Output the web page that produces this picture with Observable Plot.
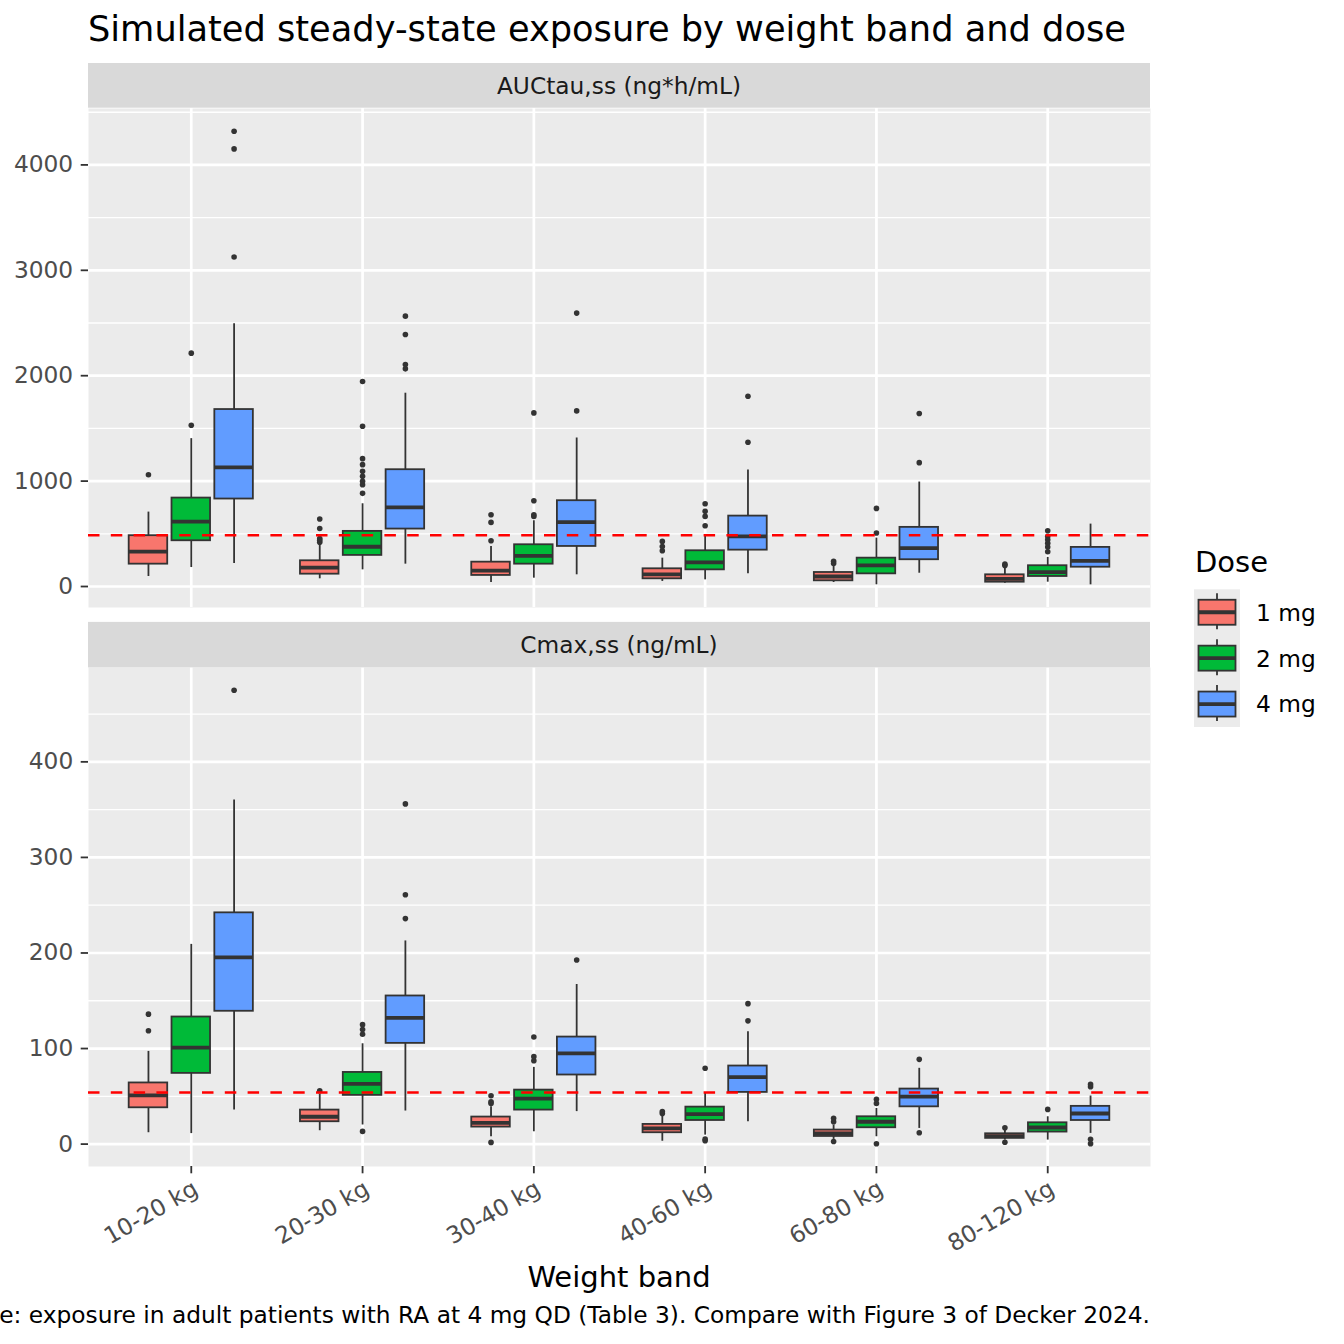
<!DOCTYPE html>
<html><head><meta charset="utf-8">
<script src="https://cdn.jsdelivr.net/npm/d3@7"></script>
<script src="https://cdn.jsdelivr.net/npm/@observablehq/plot@0.6"></script>
<style>
html,body{margin:0;padding:0;background:#fff;overflow:hidden}
#root{position:relative;width:1344px;height:1344px;overflow:hidden;font-family:"DejaVu Sans",sans-serif}
#root > svg{position:absolute;left:0}
</style></head><body><div id="root"></div>
<script>
const bands = ["10-20 kg","20-30 kg","30-40 kg","40-60 kg","60-80 kg","80-120 kg"];
const doses = ["1 mg","2 mg","4 mg"];
const doseColors = ["#F8766D","#00BA38","#619CFF"];

// AUCtau,ss (ng*h/mL): per band, [1 mg, 2 mg, 4 mg]
const aucLow = [[95,180,218],[73,158,212],[38,79,111],[48,63,120],[38,16,126],[31,41,16]];
const aucQ1  = [[212,434,830],[117,295,545],[105,212,380],[73,158,345],[54,120,254],[41,95,183]];
const aucMed = [[330,615,1131],[180,377,750],[150,291,611],[115,228,475],[95,200,364],[73,136,244]];
const aucQ3  = [[482,839,1679],[244,523,1108],[231,396,814],[168,339,668],[133,269,561],[111,197,371]];
const aucHigh= [[706,1403,2492],[400,785,1834],[380,624,1409],[269,491,1105],[206,459,991],[174,276,592]];
const aucOut = [
  [[1061],[1530,2214],[3126,4152,4320]],
  [[420,440,455,551,640],[884,966,998,1045,1093,1156,1213,1520,1945],[2065,2106,2391,2565]],
  [[434,608,681],[665,681,814,1647],[1666,2594]],
  [[339,380,428],[577,665,713,785],[1368,1805]],
  [[218,240],[507,741],[1175,1641]],
  [[200,212],[330,374,411,443,475,529],[]]
];
const aucRef = 487;

// Cmax,ss (ng/mL)
const cmaxLow = [[11.9,11,35.6],[14,20,34.6],[7.7,12.9,34],[3,9.4,23.4],[4.9,7.7,16.4],[4.2,4.2,11.2]];
const cmaxQ1  = [[38,74,139],[23.4,51,105.4],[17.8,35.6,72.3],[11.9,24.7,54.1],[8,17.1,39],[6,12.6,24.7]];
const cmaxMed = [[51,101,195.5],[28.6,63,132],[22.3,47.5,95],[16.4,31.4,70],[11.2,23.4,49.6],[8.4,17.4,32]];
const cmaxQ3  = [[64,133,242],[35.6,75,155],[28.3,56.5,112],[20.6,38.7,81.7],[14.7,28.6,57.6],[10.8,22.3,39.5]];
const cmaxHigh= [[97,209,360],[52,105,212.6],[39,80.3,167],[30.4,53,117.6],[19.9,37.3,79.3],[15.3,28.6,50.3]];
const cmaxOut = [
  [[118.6,136],[],[475]],
  [[55.8],[13.3,115,120,125],[236,261,356]],
  [[1.8,42.6,44.3,50.6],[87.3,91.5,112],[192.7]],
  [[32,34],[3.5,5.2,79.3],[129,147]],
  [[2.8,23.4,27],[0.3,42.6,47],[11.9,88.7]],
  [[2,17],[36.3],[0.5,5,60,62.5]]
];
const cmaxRef = 54;

const aucMajor = [0,1000,2000,3000,4000];
const aucMinor = [500,1500,2500,3500,4500];
const cmaxMajor = [0,100,200,300,400];
const cmaxMinor = [50,150,250,350,450];

const DODGE = 0.25, HALF = 0.1125;
function buildRows(lo,q1,med,q3,hi){
  const rows=[];
  bands.forEach((b,i)=>doses.forEach((d,j)=>{
    const x=i+1+(j-1)*DODGE;
    rows.push({band:b,dose:d,x,x1:x-HALF,x2:x+HALF,lo:lo[i][j],q1:q1[i][j],med:med[i][j],q3:q3[i][j],hi:hi[i][j]});
  }));
  return rows;
}
function buildOut(out){
  const pts=[];
  bands.forEach((b,i)=>doses.forEach((d,j)=>{
    out[i][j].forEach(v=>pts.push({band:b,dose:d,x:i+1+(j-1)*DODGE,y:v}));
  }));
  return pts;
}

const ink="#333333";
const LW=1.8, MW=3.8;
function panel({rows,outs,ref,majors,minors,height,marginBottom,showX}){
  const all=rows.flatMap(r=>[r.lo,r.hi]).concat(outs.map(o=>o.y));
  const mn=d3.min(all), mx=d3.max(all), pad=(mx-mn)*0.05;
  return Plot.plot({
    width:1344, height, marginLeft:88, marginRight:194, marginTop:0, marginBottom,
    style:{fontFamily:"DejaVu Sans", background:"transparent", overflow:"visible"},
    x:{type:"linear", domain:[0.4,6.6], axis:null},
    y:{domain:[mn-pad,mx+pad], axis:null},
    color:{domain:doses, range:doseColors},
    marks:[
      Plot.frame({fill:"#EBEBEB", stroke:"none"}),
      Plot.ruleY(minors,{stroke:"#fff",strokeWidth:1.35}),
      Plot.ruleY(majors,{stroke:"#fff",strokeWidth:2.7}),
      Plot.ruleX(d3.range(1,bands.length+1),{stroke:"#fff",strokeWidth:2.7}),
      Plot.axisY(majors,{anchor:"left",tickSize:7.3,tickPadding:8,tickFormat:d=>String(d),fontSize:23.3,stroke:ink,fill:"#4D4D4D",strokeWidth:1.8,label:null}),
      showX ? Plot.axisX(d3.range(1,bands.length+1),{anchor:"bottom",tickSize:7.3,tickPadding:5,tickRotate:-30,textAnchor:"end",lineAnchor:"top",tickFormat:i=>bands[i-1],fontSize:23.3,stroke:ink,fill:"#4D4D4D",strokeWidth:1.8,label:null}) : null,
      Plot.dot(outs,{x:"x",y:"y",r:2.8,fill:ink,stroke:"none"}),
      Plot.ruleX(rows,{x:"x",y1:"lo",y2:"hi",stroke:ink,strokeWidth:LW}),
      Plot.rect(rows,{x1:"x1",x2:"x2",y1:"q1",y2:"q3",fill:"dose",stroke:ink,strokeWidth:LW}),
      Plot.ruleY(rows,{x1:"x1",x2:"x2",y:"med",stroke:ink,strokeWidth:MW}),
      Plot.ruleY([ref],{stroke:"#FF0000",strokeWidth:2.4,strokeDasharray:"11.5,11.3"})
    ]
  });
}

const root=document.getElementById("root");
const p1=panel({rows:buildRows(aucLow,aucQ1,aucMed,aucQ3,aucHigh),outs:buildOut(aucOut),ref:aucRef,majors:aucMajor,minors:aucMinor,height:499,marginBottom:0,showX:false});
p1.style.top="107.7px";
root.appendChild(p1);
const p2=panel({rows:buildRows(cmaxLow,cmaxQ1,cmaxMed,cmaxQ3,cmaxHigh),outs:buildOut(cmaxOut),ref:cmaxRef,majors:cmaxMajor,minors:cmaxMinor,height:599,marginBottom:100,showX:true});
p2.style.top="667.4px";
root.appendChild(p2);

// text, strips and legend overlay
const ov=d3.select(root).append("svg").attr("width",1344).attr("height",1344).style("top","0px").style("pointer-events","none")
  .attr("font-family","DejaVu Sans");
ov.append("text").attr("x",88).attr("y",41).attr("font-size",35.2).attr("fill","#000").text("Simulated steady-state exposure by weight band and dose");
const strips=[{label:"AUCtau,ss (ng*h/mL)",top:63,bottom:107.7},{label:"Cmax,ss (ng/mL)",top:621.9,bottom:667.4}];
strips.forEach(s=>{
  ov.append("rect").attr("x",88).attr("y",s.top).attr("width",1062).attr("height",s.bottom-s.top).attr("fill","#D9D9D9");
  ov.append("text").attr("x",619).attr("y",(s.top+s.bottom)/2+8.4).attr("text-anchor","middle").attr("font-size",23.3).attr("fill","#1A1A1A").text(s.label);
});
ov.append("text").attr("x",619).attr("y",1287).attr("text-anchor","middle").attr("font-size",29).attr("fill","#000").text("Weight band");
ov.append("text").attr("x",1150).attr("y",1323).attr("text-anchor","end").attr("font-size",23.3).attr("fill","#000")
  .text("Dashed line: exposure in adult patients with RA at 4 mg QD (Table 3). Compare with Figure 3 of Decker 2024.");
// legend
ov.append("text").attr("x",1195).attr("y",572).attr("font-size",29).attr("fill","#000").text("Dose");
const keyTop=589.3, keyH=45.9;
ov.append("rect").attr("x",1194).attr("y",keyTop).attr("width",46).attr("height",keyH*doses.length).attr("fill","#EBEBEB");
doses.forEach((d,j)=>{
  const cy=keyTop+keyH*j+keyH/2, cx=1217;
  const g=ov.append("g");
  g.append("line").attr("x1",cx).attr("x2",cx).attr("y1",cy-19).attr("y2",cy+17).attr("stroke",ink).attr("stroke-width",LW);
  g.append("rect").attr("x",1198.5).attr("y",cy-12.5).attr("width",37).attr("height",25).attr("fill",doseColors[j]).attr("stroke",ink).attr("stroke-width",LW);
  g.append("line").attr("x1",1198.5).attr("x2",1235.5).attr("y1",cy).attr("y2",cy).attr("stroke",ink).attr("stroke-width",MW);
  ov.append("text").attr("x",1256).attr("y",cy+8.4).attr("font-size",23.3).attr("fill","#000").text(d);
});
</script></body></html>
